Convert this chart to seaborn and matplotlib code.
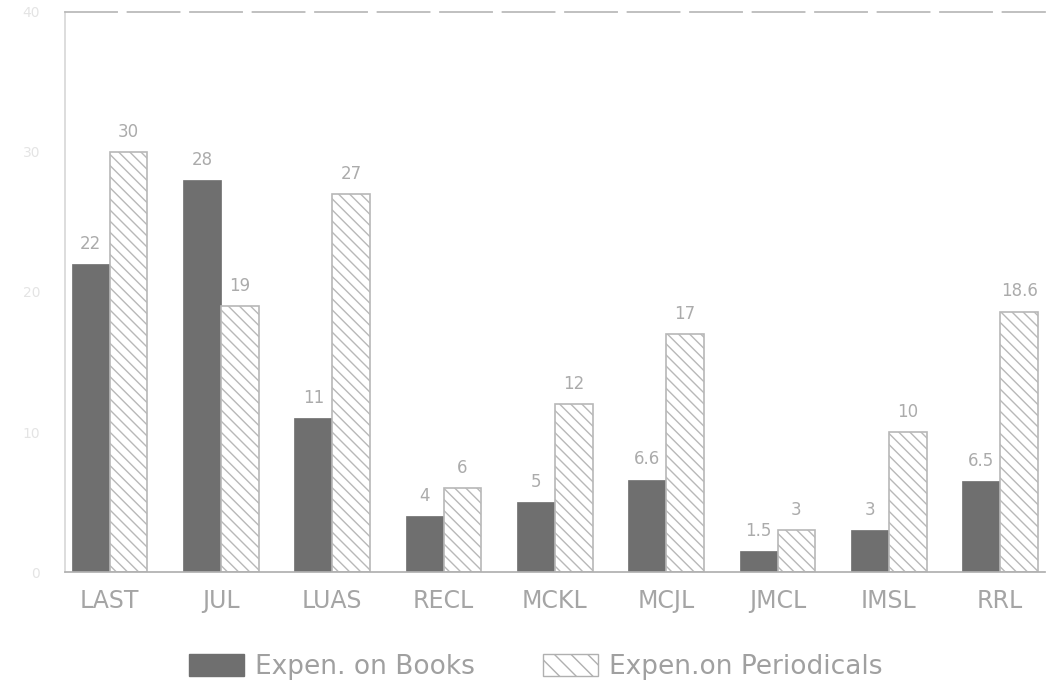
import matplotlib
matplotlib.use("Agg")
import matplotlib.pyplot as plt
import seaborn as sns
import pandas as pd
import numpy as np
from matplotlib.patches import Patch

libraries = ["LAST", "JUL", "LUAS", "RECL", "MCKL", "MCJL", "JMCL", "IMSL", "RRL"]
books = [22, 28, 11, 4, 5, 6.6, 1.5, 3, 6.5]
periodicals = [30, 19, 27, 6, 12, 17, 3, 10, 18.6]
book_labels = ["22", "28", "11", "4", "5", "6.6", "1.5", "3", "6.5"]
per_labels = ["30", "19", "27", "6", "12", "17", "3", "10", "18.6"]
series = ["Expen. on Books", "Expen.on Periodicals"]
yticks = [0, 10, 20, 30, 40]

sns.set_theme(style="white")
plt.rcParams['font.family'] = ['DejaVu Sans']

df = pd.DataFrame({
    "Library": libraries * 2,
    "Value": books + periodicals,
    "Series": [series[0]] * len(libraries) + [series[1]] * len(libraries),
})

fig = plt.figure(figsize=(10.5, 6.91), dpi=100)
ax = fig.add_axes([0.062, 0.172, 0.933, 0.811])

book_color = "#6f6f6f"
sns.barplot(data=df, x="Library", y="Value", hue="Series", order=libraries,
            hue_order=series, palette=[book_color, "white"], width=0.68,
            ax=ax, legend=False, saturation=1)

n = len(libraries)
bars = ax.patches
for i, p in enumerate(bars[:2 * n]):
    if i < n:
        p.set_edgecolor(book_color)
        p.set_linewidth(0.5)
    else:
        p.set_facecolor("white")
        p.set_edgecolor("#b8b8b8")
        p.set_hatch("\\\\\\")
        p.set_linewidth(1.2)

# value labels
for i, p in enumerate(bars[:2 * n]):
    lab = book_labels[i] if i < n else per_labels[i - n]
    ax.text(p.get_x() + p.get_width() / 2, p.get_height() + 0.8, lab,
            ha="center", va="bottom", fontsize=12, color="#ababab")

ax.set_ylim(0, 40)
ax.set_xlim(-0.40, 8.40)
ax.set_yticks(yticks)
ax.set_yticklabels([str(t) for t in yticks], color="#e4e4e4", fontsize=10)
ax.tick_params(axis="y", length=4, color="#dddddd", pad=14)
ax.tick_params(axis="x", length=0, pad=12, labelsize=17, labelcolor="#a5a5a5")
ax.set_xlabel("")
ax.set_ylabel("")

ax.spines["right"].set_visible(False)
ax.spines["left"].set_color("#d8d8d8")
ax.spines["bottom"].set_color("#b0b0b0")
ax.spines["top"].set_color("#b8b8b8")
ax.spines["top"].set_linestyle((0, (30, 6)))

handles = [Patch(facecolor=book_color, edgecolor=book_color),
           Patch(facecolor="white", edgecolor="#b0b0b0", hatch="\\\\")]
fig.legend(handles, series, loc="center", bbox_to_anchor=(0.51, 0.035),
           ncol=2, frameon=False, fontsize=19, labelcolor="#a0a0a0",
           handlelength=2.1, handleheight=0.9, columnspacing=2.6,
           handletextpad=0.4)

fig.savefig("out.png", dpi=100)
